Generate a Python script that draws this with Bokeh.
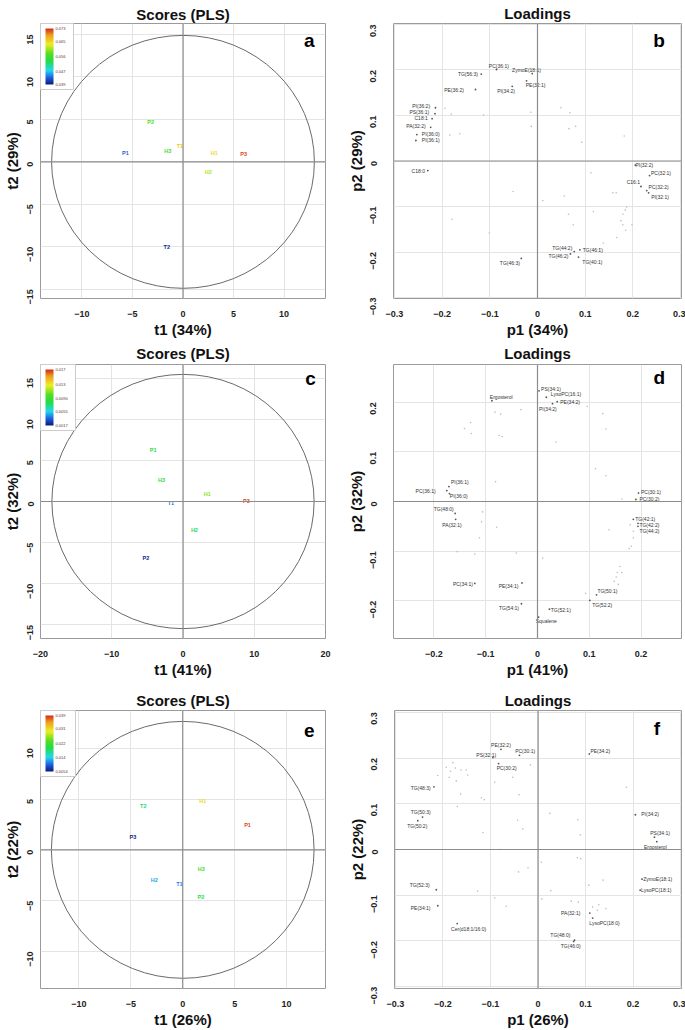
import math
from bokeh.plotting import figure
from bokeh.layouts import column, row
from bokeh.models import (Range1d, FixedTicker, ColorBar, LinearColorMapper,
                          Label, Span, ColumnDataSource)
from bokeh.transform import linear_cmap
from bokeh.core.properties import value
from bokeh.embed import file_html
from bokeh.resources import INLINE

# ---------------- DATA ----------------
# Panel a : scores
a_names = ["P1", "P2", "P3", "H1", "H2", "H3", "T1", "T2"]
a_t1 = [-5.7, -3.2, 6.0, 3.1, 2.5, -1.5, -0.3, -1.6]
a_t2 = [1.1, 4.7, 0.9, 1.1, -1.2, 1.3, 1.9, -10.0]
a_val = [0.043, 0.057, 0.072, 0.065, 0.061, 0.056, 0.066, 0.040]
a_cb_ticks = [0.039, 0.047, 0.056, 0.065, 0.073]
a_cb_labels = ["0.039", "0.047", "0.056", "0.065", "0.073"]
a_ellipse = [13.0, 14.9]

# Panel c : scores
c_names = ["P1", "P2", "P3", "H1", "H2", "H3", "T1"]
c_t1 = [-4.2, -5.2, 8.9, 3.4, 1.6, -3.0, -1.7]
c_t2 = [6.3, -6.9, 0.05, 0.9, -3.5, 2.6, -0.15]
c_val = [0.0085, 0.0020, 0.0165, 0.0110, 0.0075, 0.0088, 0.0040]
c_cb_ticks = [0.0017, 0.0055, 0.0090, 0.013, 0.017]
c_cb_labels = ["0.0017", "0.0055", "0.0090", "0.013", "0.017"]
c_ellipse = [18.4, 15.45]

# Panel e : scores
e_names = ["P1", "P2", "P3", "H1", "H2", "H3", "T1", "T2"]
e_t1 = [6.24, 1.75, -4.8, 1.94, -2.74, 1.78, -0.32, -3.8]
e_t2 = [2.42, -4.65, 1.26, 4.8, -3.0, -1.9, -3.32, 4.3]
e_val = [0.038, 0.020, 0.006, 0.031, 0.012, 0.022, 0.011, 0.018]
e_cb_ticks = [0.0054, 0.014, 0.022, 0.031, 0.039]
e_cb_labels = ["0.0054", "0.014", "0.022", "0.031", "0.039"]
e_ellipse = [12.65, 12.65]

# Panel b : loadings
b_names = ["PC(36:1)", "ZymoE(18:1)", "TG(56:3)", "PE(32:1)", "PE(36:2)", "PI(34:2)",
           "PI(36:2)", "PS(36:1)", "C18:1", "PA(32:2)", "PI(36:0)", "PI(36:1)", "C18:0",
           "PI(32:2)", "PC(32:1)", "C16:1", "PC(32:2)", "PI(32:1)", "TG(44:2)",
           "TG(46:1)", "TG(46:2)", "TG(40:1)", "TG(46:3)"]
b_p1 = [-0.086, -0.011, -0.118, -0.023, -0.130, -0.053, -0.214, -0.215, -0.221, -0.224,
        -0.253, -0.255, -0.230, 0.205, 0.235, 0.217, 0.229, 0.233, 0.077, 0.089, 0.069,
        0.086, -0.034]
b_p2 = [0.201, 0.192, 0.191, 0.176, 0.157, 0.164, 0.117, 0.104, 0.093, 0.074, 0.058,
        0.045, -0.021, -0.009, -0.032, -0.056, -0.065, -0.070, -0.199, -0.195, -0.204,
        -0.211, -0.214]
b_lab_x = [-0.081, -0.023, -0.146, -0.004, -0.175, -0.066, -0.244, -0.248, -0.244, -0.255,
           -0.224, -0.224, -0.250, 0.224, 0.259, 0.201, 0.254, 0.257, 0.052, 0.116, 0.044,
           0.115, -0.058]
b_lab_y = [0.209, 0.199, 0.192, 0.167, 0.155, 0.154, 0.121, 0.107, 0.094, 0.076, 0.060,
           0.046, -0.021, -0.008, -0.026, -0.047, -0.058, -0.079, -0.190, -0.196, -0.209,
           -0.221, -0.225]
b_other_p1 = [-0.113, -0.181, -0.194, -0.184, -0.163, -0.014, -0.013, 0.049, 0.068, 0.066,
              0.080, 0.093, 0.182, 0.112, -0.051, 0.011, 0.056, 0.117, 0.158, 0.165, 0.187,
              0.184, 0.179, 0.175, 0.179, 0.198, 0.185, 0.166, 0.138, 0.075, 0.065, -0.179,
              -0.101, 0.131]
b_other_p2 = [0.101, 0.103, 0.116, 0.057, 0.060, 0.107, 0.076, 0.117, 0.106, 0.071, 0.076,
              0.041, 0.055, -0.026, -0.067, -0.087, -0.077, -0.111, -0.070, -0.070, -0.101,
              -0.108, -0.117, -0.131, -0.140, -0.140, -0.152, -0.168, -0.180, -0.140, -0.117,
              -0.128, -0.158, -0.193]

# Panel d : loadings
d_names = ["PS(34:1)", "LysoPC(16:1)", "PE(34:2)", "PI(34:2)", "Ergosterol", "PI(36:1)",
           "PC(36:1)", "PI(36:0)", "TG(48:0)", "PA(32:1)", "PC(30:1)", "PC(30:2)",
           "TG(42:1)", "TG(42:2)", "TG(44:2)", "PC(34:1)", "PE(34:1)", "TG(54:1)",
           "TG(52:1)", "Squalene", "TG(50:1)", "TG(52:2)"]
d_p1 = [0.003, 0.017, 0.038, 0.029, -0.088, -0.171, -0.175, -0.170, -0.159, -0.158, 0.195,
        0.190, 0.185, 0.194, 0.194, -0.121, -0.030, -0.031, 0.023, 0.002, 0.114, 0.101]
d_p2 = [0.223, 0.210, 0.201, 0.197, 0.203, 0.030, 0.022, 0.016, -0.024, -0.036, 0.017,
        0.004, -0.036, -0.044, -0.050, -0.165, -0.164, -0.206, -0.217, -0.233, -0.188,
        -0.199]
d_lab_x = [0.026, 0.055, 0.063, 0.020, -0.070, -0.150, -0.216, -0.152, -0.181, -0.165,
           0.219, 0.216, 0.208, 0.216, 0.216, -0.144, -0.056, -0.055, 0.045, 0.017, 0.135,
           0.125]
d_lab_y = [0.227, 0.216, 0.201, 0.186, 0.210, 0.039, 0.022, 0.012, -0.015, -0.047, 0.020,
           0.005, -0.036, -0.047, -0.059, -0.166, -0.171, -0.214, -0.218, -0.240, -0.181,
           -0.208]
d_other_p1 = [-0.129, -0.128, -0.141, -0.082, -0.071, -0.074, -0.068, -0.032, 0.096, 0.126,
              0.132, 0.036, 0.112, 0.132, -0.081, -0.106, -0.108, -0.112, -0.121, -0.155,
              -0.079, -0.041, 0.010, 0.138, 0.163, 0.179, 0.185, 0.185, 0.181, 0.177, 0.159,
              0.163, 0.154, 0.152, 0.148, 0.156, 0.093]
d_other_p2 = [0.159, 0.137, 0.147, 0.180, 0.176, 0.133, 0.131, 0.185, 0.192, 0.177, 0.146,
              0.120, 0.066, 0.052, 0.040, -0.021, -0.041, -0.073, -0.106, -0.101, -0.052,
              -0.104, -0.114, -0.057, 0.005, -0.047, -0.060, -0.073, -0.090, -0.095, -0.131,
              -0.143, -0.143, -0.152, -0.161, -0.167, -0.185]

# Panel f : loadings
f_names = ["PE(32:2)", "PC(30:1)", "PS(32:1)", "PC(30:2)", "PE(34:2)", "TG(48:3)",
           "TG(50:3)", "TG(50:2)", "PI(34:2)", "PS(34:1)", "Ergosterol", "ZymoE(18:1)",
           "LysoPC(18:1)", "TG(52:3)", "PE(34:1)", "Cer(d18:1/16:0)", "PA(32:1)",
           "LysoPC(18:0)", "TG(48:0)", "TG(46:0)"]
f_p1 = [-0.078, -0.039, -0.095, -0.083, 0.108, -0.219, -0.243, -0.253, 0.205, 0.245, 0.250,
        0.219, 0.215, -0.214, -0.211, -0.170, 0.109, 0.115, 0.077, 0.075]
f_p2 = [0.219, 0.206, 0.201, 0.188, 0.209, 0.137, 0.071, 0.063, 0.076, 0.027, 0.017,
        -0.065, -0.089, -0.088, -0.123, -0.162, -0.139, -0.150, -0.198, -0.201]
f_lab_x = [-0.078, -0.027, -0.109, -0.066, 0.131, -0.247, -0.247, -0.254, 0.236, 0.257,
           0.247, 0.252, 0.249, -0.249, -0.247, -0.146, 0.069, 0.140, 0.047, 0.069]
f_lab_y = [0.229, 0.216, 0.206, 0.178, 0.216, 0.135, 0.083, 0.051, 0.078, 0.037, 0.006,
           -0.065, -0.089, -0.078, -0.127, -0.173, -0.138, -0.160, -0.186, -0.212]
f_other_p1 = [-0.179, -0.193, -0.184, -0.174, -0.162, -0.151, -0.148, -0.211, -0.187, -0.172,
              -0.163, -0.170, -0.119, -0.113, -0.091, -0.053, -0.016, -0.040, 0.025, -0.043,
              -0.032, -0.116, -0.081, 0.186, 0.084, 0.089, 0.007, -0.041, -0.021, 0.027,
              0.008, 0.070, 0.083, 0.090, 0.107, 0.137, 0.143, 0.115, 0.125, -0.127, -0.091,
              -0.067, 0.085, 0.128]
f_other_p2 = [0.190, 0.180, 0.171, 0.178, 0.174, 0.174, 0.163, 0.162, 0.158, 0.150, 0.121,
              0.094, 0.113, 0.109, 0.147, 0.158, 0.185, 0.120, 0.079, 0.064, 0.045, 0.037,
              0.000, 0.136, 0.065, 0.032, -0.028, -0.049, -0.040, -0.090, -0.108, -0.113,
              -0.018, -0.020, -0.078, -0.067, -0.129, -0.126, -0.133, -0.091, -0.106, -0.124,
              -0.115, -0.121]

# ---------------- STYLE ----------------
FONT = "Liberation Sans"


def make_palette(stops, n=256):
    def hex2rgb(h):
        return tuple(int(h[i:i + 2], 16) for i in (1, 3, 5))
    out = []
    for i in range(n):
        f = i / (n - 1)
        for k in range(len(stops) - 1):
            f0, c0 = stops[k]
            f1, c1 = stops[k + 1]
            if f0 <= f <= f1:
                t = (f - f0) / (f1 - f0) if f1 > f0 else 0
                r0, g0, b0 = hex2rgb(c0)
                r1, g1, b1 = hex2rgb(c1)
                out.append("#%02x%02x%02x" % (round(r0 + (r1 - r0) * t),
                                              round(g0 + (g1 - g0) * t),
                                              round(b0 + (b1 - b0) * t)))
                break
    return out


PAL = make_palette([(0.0, "#0b1a78"), (0.12, "#1f5fe0"), (0.25, "#22d8f0"),
                    (0.42, "#22dd44"), (0.55, "#55dd22"), (0.72, "#eeee22"),
                    (0.88, "#eea020"), (1.0, "#d8281a")])


def base_fig(w, h, bl, br, bt, bb, xr, yr, xt, yt, title, tstand, xlab, ylab, ystand,
             ylstand, letter, lxy):
    p = figure(width=w, height=h, x_range=Range1d(*xr), y_range=Range1d(*yr),
               output_backend="svg", toolbar_location=None, tools="",
               min_border_left=bl, min_border_right=br, min_border_top=bt,
               min_border_bottom=bb)
    p.title.text = title
    p.title.align = "center"
    p.title.text_font = FONT
    p.title.text_font_size = "15px"
    p.title.text_font_style = "bold"
    p.title.text_color = "#111111"
    p.title.text_line_height = 0.8
    p.title.standoff = tstand
    p.outline_line_color = "#9a9a9a"
    p.background_fill_color = "white"
    p.xaxis.ticker = FixedTicker(ticks=xt)
    p.yaxis.ticker = FixedTicker(ticks=yt)
    p.xaxis.axis_label = xlab
    p.yaxis.axis_label = ylab
    for ax in (p.xaxis, p.yaxis):
        ax.axis_line_color = None
        ax.major_tick_line_color = None
        ax.minor_tick_line_color = None
        ax.major_label_text_font = FONT
        ax.major_label_text_font_size = "9px"
        ax.major_label_text_font_style = "bold"
        ax.major_label_text_color = "#222222"
        ax.axis_label_text_font = FONT
        ax.axis_label_text_font_size = "15px"
        ax.axis_label_text_font_style = "bold"
        ax.axis_label_text_color = "#111111"
    p.xaxis.axis_label_standoff = 1
    p.yaxis.axis_label_standoff = ylstand
    p.xaxis.major_label_standoff = 6
    p.yaxis.major_label_standoff = ystand
    p.yaxis.major_label_orientation = math.pi / 2
    p.grid.grid_line_color = "#e4e4e4"
    p.grid.grid_line_width = 1
    p.add_layout(Span(location=0, dimension="width", line_color="#8c8c8c",
                      line_width=1.2, level="glyph"))
    p.add_layout(Span(location=0, dimension="height", line_color="#8c8c8c",
                      line_width=1.2, level="glyph"))
    p.add_layout(Label(x=lxy[0], y=lxy[1], text=letter, text_font=FONT,
                       text_font_size="19px", text_font_style="bold",
                       text_color="black", text_align="center",
                       text_baseline="middle"))
    return p


def scores(p, names, t1, t2, val, cb_ticks, cb_labels, ell):
    lo, hi = cb_ticks[0], cb_ticks[-1]
    p.ellipse(x=[0], y=[0], width=[2 * ell[0]], height=[2 * ell[1]],
              fill_color=None, line_color="#6a6a6a", line_width=1)
    src = ColumnDataSource(dict(x=t1, y=t2, t=names, v=val))
    p.text("x", "y", "t", source=src,
           text_color=linear_cmap("v", PAL, lo, hi),
           text_font=value(FONT), text_font_size="5.5px", text_font_style="bold",
           text_align="center", text_baseline="middle")
    mapper = LinearColorMapper(palette=PAL, low=lo, high=hi)
    cb = ColorBar(color_mapper=mapper, ticker=FixedTicker(ticks=cb_ticks),
                  major_label_overrides={t: s for t, s in zip(cb_ticks, cb_labels)},
                  location="top_left", width=8, height=56, margin=0, padding=5,
                  label_standoff=2, major_label_text_font_size="4px",
                  major_label_text_font=FONT,
                  major_label_text_color="#5a3333", major_tick_line_color=None,
                  minor_tick_line_color=None, bar_line_color=None,
                  border_line_color="#cccccc", background_fill_color="white",
                  background_fill_alpha=1)
    p.add_layout(cb)


def loadings(p, names, p1, p2, lx, ly, op1, op2):
    p.scatter(op1, op2, size=1.6, color="#bdbdbd", line_color=None)
    p.scatter(p1, p2, size=1.8, color="#555555", line_color=None)
    src = ColumnDataSource(dict(x=lx, y=ly, t=names))
    p.text("x", "y", "t", source=src, text_color="#333333",
           text_font=value(FONT), text_font_size="5px",
           text_align="center", text_baseline="middle")


ld_ticks = [-0.3, -0.2, -0.1, 0.0, 0.1, 0.2, 0.3]
d_ticks = [-0.2, -0.1, 0.0, 0.1, 0.2]

pa = base_fig(340, 340, 38, 15, 18, 38, (-14.1, 14.1), (-16.1, 16.3),
              [-10, -5, 0, 5, 10], [-15, -10, -5, 0, 5, 10, 15],
              "Scores (PLS)", 2, "t1 (34%)", "t2 (29%)", 4, 1, "a", (12.5, 14.3))
scores(pa, a_names, a_t1, a_t2, a_val, a_cb_ticks, a_cb_labels, a_ellipse)

pb = base_fig(345, 340, 53, 4, 20, 38, (-0.302, 0.302), (-0.302, 0.302),
              ld_ticks, ld_ticks, "Loadings", 4, "p1 (34%)", "p2 (29%)", 14, 0, "b",
              (0.255, 0.264))
loadings(pb, b_names, b_p1, b_p2, b_lab_x, b_lab_y, b_other_p1, b_other_p2)

pc = base_fig(340, 340, 38, 15, 23, 35, (-20, 20), (-16.65, 16.65),
              [-20, -10, 0, 10, 20], [-15, -10, -5, 0, 5, 10, 15],
              "Scores (PLS)", 5, "t1 (41%)", "t2 (32%)", 4, 1, "c", (17.9, 15.0))
scores(pc, c_names, c_t1, c_t2, c_val, c_cb_ticks, c_cb_labels, c_ellipse)

pd = base_fig(345, 340, 53, 4, 23, 35, (-0.278, 0.278), (-0.276, 0.276),
              d_ticks, d_ticks, "Loadings", 5, "p1 (41%)", "p2 (32%)", 14, 0, "d",
              (0.235, 0.249))
loadings(pd, d_names, d_p1, d_p2, d_lab_x, d_lab_y, d_other_p1, d_other_p2)

pe = base_fig(340, 350, 38, 15, 29, 38, (-13.7, 13.75), (-13.65, 13.72),
              [-10, -5, 0, 5, 10], [-10, -5, 0, 5, 10],
              "Scores (PLS)", 3, "t1 (26%)", "t2 (22%)", 4, 1, "e", (12.2, 11.8))
scores(pe, e_names, e_t1, e_t2, e_val, e_cb_ticks, e_cb_labels, e_ellipse)

pf = base_fig(345, 350, 54, 4, 30, 38, (-0.302, 0.302), (-0.304, 0.304),
              ld_ticks, ld_ticks, "Loadings", 4, "p1 (26%)", "p2 (22%)", 14, 0, "f",
              (0.25, 0.264))
loadings(pf, f_names, f_p1, f_p2, f_lab_x, f_lab_y, f_other_p1, f_other_p2)

layout = column(row(pa, pb), row(pc, pd), row(pe, pf))
open("out.html", "w").write(file_html(layout, INLINE, title="PLS scores and loadings"))
